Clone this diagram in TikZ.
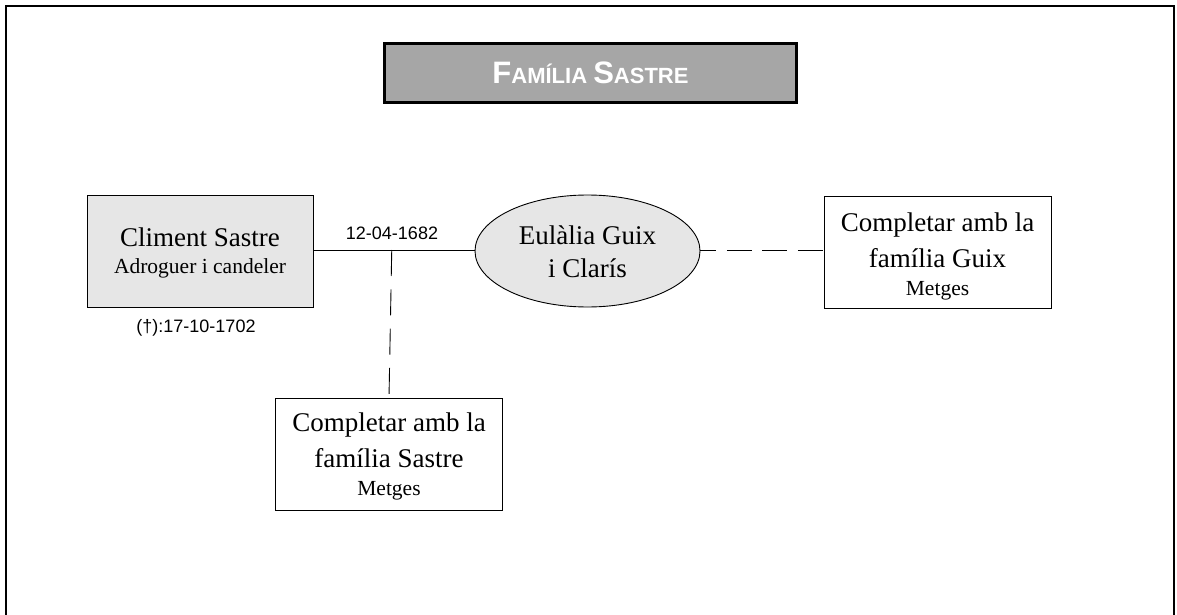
\documentclass[tikz,border=0pt]{standalone}
\usepackage{fontspec}
\setmainfont{Liberation Serif}
\newfontfamily\sansf{Liberation Sans}
\usetikzlibrary{shapes.geometric}
\definecolor{boxgray}{HTML}{E6E6E6}
\definecolor{titlegray}{HTML}{A6A6A6}
\begin{document}
\begin{tikzpicture}[x=1pt,y=-1pt,
  person/.style={draw=black,line width=0.9pt,fill=boxgray,minimum width=226pt,minimum height=112pt,inner sep=0pt,align=center},
  todo/.style={draw=black,line width=0.9pt,fill=white,minimum width=227pt,minimum height=112pt,inner sep=0pt,align=center},
  spouse/.style={ellipse,draw=black,line width=0.9pt,fill=boxgray,minimum width=225pt,minimum height=112pt,inner sep=0pt,align=center},
  link/.style={line width=0.9pt},
  vdash/.style={line width=0.9pt,dash pattern=on 26pt off 13.3pt},
  hdash/.style={line width=0.9pt,dash pattern=on 25pt off 10.5pt,dash phase=9pt},
  big/.style={font=\fontsize{27}{33}\selectfont},
  small/.style={font=\fontsize{21.5}{24}\selectfont},
  datef/.style={font=\sansf\fontsize{18}{20}\selectfont,inner sep=0pt}]
\useasboundingbox (0,0) rectangle (1177,615);
\fill[white] (0,0) rectangle (1177,615);
% outer frame
\draw[line width=1.5pt] (6,620) -- (6,6) -- (1174,6) -- (1174,620);
% title
\node[draw=black,line width=2.5pt,fill=titlegray,minimum width=412pt,minimum height=59pt,inner sep=0pt,text=white,font=\sansf\bfseries] (title) at (590.5,73)
  {\fontsize{31}{32}\selectfont F\fontsize{22}{24}\selectfont AMÍLIA \fontsize{31}{32}\selectfont S\fontsize{22}{24}\selectfont ASTRE};
% people
\node[person] (climent) at (200,251) {};
\node[big] at (200,237) {Climent Sastre};
\node[small] at (200,268) {Adroguer i candeler};
\node[datef] (death) at (196,328) {(†):17-10-1702};
\node[spouse] (eulalia) at (587.5,251) {};
\node[big] at (587.5,235) {Eulàlia Guix};
\node[big] at (587.5,268) {i Clarís};
% to-do boxes
\node[todo] (guix) at (937.5,252) {};
\node[big] at (937.5,225) {Completar amb la};
\node[big] at (937.5,258) {família Guix};
\node[small] at (937.5,291) {Metges};
\node[todo] (sastre) at (389,454) {};
\node[big] at (389,425) {Completar amb la};
\node[big] at (389,458) {família Sastre};
\node[small] at (389,491) {Metges};
% connectors
\draw[link] (climent.east |- 0,250) -- coordinate[pos=0.486] (mid) (eulalia.west |- 0,250);
\node[datef] (date) at (392,233) {12-04-1682};
\draw[vdash] (mid) -- (sastre.north);
\draw[hdash] (eulalia.east |- 0,250) -- (guix.west |- 0,250);
\end{tikzpicture}
\end{document}
